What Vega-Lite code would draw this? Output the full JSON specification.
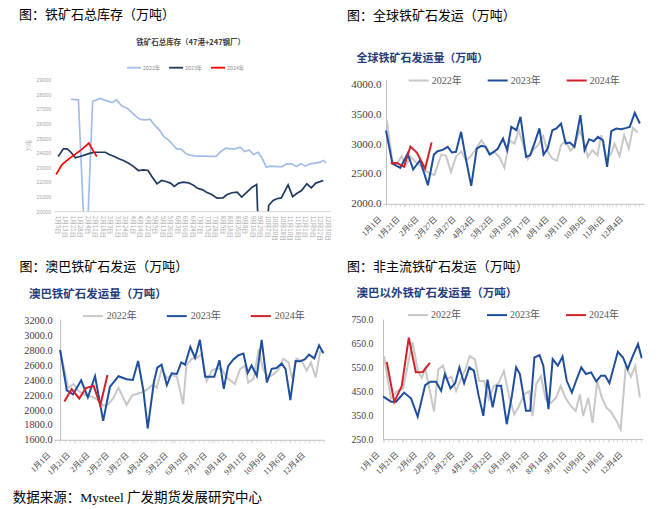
{
  "$schema": "https://vega.github.io/schema/vega-lite/v6.json",
  "background": "white",
  "padding": {"left": 12.7, "top": 8.5, "right": 5, "bottom": 2},
  "title": {"text": "数据来源：Mysteel 广发期货发展研究中心", "orient": "bottom", "anchor": "start", "frame": "group", "dx": -40.9, "offset": 14.5, "fontSize": 13.5, "font": "'Liberation Serif','Noto Sans CJK SC'", "fontWeight": "normal", "color": "#000000"},
  "columns": 2,
  "bounds": "flush",
  "spacing": {"row": 107.6, "column": 51.3},
  "resolve": {"scale": {"x": "independent", "y": "independent", "color": "independent"}, "axis": {"x": "independent", "y": "independent"}, "legend": {"color": "independent"}},
  "datasets": {
    "tl": [
      {"x": 1.8, "v": 27650, "s": "2022年"}, {"x": 2.8, "v": 27610, "s": "2022年"}, {"x": 3.8, "v": 16000, "s": "2022年"}, {"x": 4.7, "v": 27500, "s": "2022年"}, {"x": 5.7, "v": 27700, "s": "2022年"}, {"x": 6.5, "v": 27560, "s": "2022年"}, {"x": 7.3, "v": 27430, "s": "2022年"}, {"x": 7.9, "v": 27610, "s": "2022年"}, {"x": 8.6, "v": 27180, "s": "2022年"}, {"x": 9.3, "v": 27040, "s": "2022年"}, {"x": 9.9, "v": 26770, "s": "2022年"}, {"x": 10.6, "v": 26430, "s": "2022年"}, {"x": 11.1, "v": 26270, "s": "2022年"}, {"x": 11.7, "v": 26240, "s": "2022年"}, {"x": 12.4, "v": 26270, "s": "2022年"}, {"x": 13.0, "v": 25860, "s": "2022年"}, {"x": 13.6, "v": 25560, "s": "2022年"}, {"x": 14.2, "v": 25100, "s": "2022年"}, {"x": 14.8, "v": 24880, "s": "2022年"}, {"x": 15.4, "v": 24560, "s": "2022年"}, {"x": 15.9, "v": 24260, "s": "2022年"}, {"x": 16.5, "v": 24240, "s": "2022年"}, {"x": 17.2, "v": 23920, "s": "2022年"}, {"x": 17.7, "v": 23830, "s": "2022年"}, {"x": 18.6, "v": 23760, "s": "2022年"}, {"x": 19.5, "v": 23760, "s": "2022年"}, {"x": 20.4, "v": 23740, "s": "2022年"}, {"x": 21.2, "v": 23740, "s": "2022年"}, {"x": 21.7, "v": 24030, "s": "2022年"}, {"x": 22.5, "v": 24330, "s": "2022年"}, {"x": 23.1, "v": 24260, "s": "2022年"}, {"x": 23.7, "v": 24260, "s": "2022年"}, {"x": 24.4, "v": 24380, "s": "2022年"}, {"x": 25.0, "v": 24080, "s": "2022年"}, {"x": 25.6, "v": 24190, "s": "2022年"}, {"x": 26.2, "v": 23880, "s": "2022年"}, {"x": 26.8, "v": 24030, "s": "2022年"}, {"x": 27.3, "v": 23650, "s": "2022年"}, {"x": 27.9, "v": 23010, "s": "2022年"}, {"x": 28.4, "v": 23080, "s": "2022年"}, {"x": 29.3, "v": 23050, "s": "2022年"}, {"x": 30.0, "v": 23050, "s": "2022年"}, {"x": 30.6, "v": 23240, "s": "2022年"}, {"x": 31.3, "v": 23240, "s": "2022年"}, {"x": 31.9, "v": 23050, "s": "2022年"}, {"x": 32.5, "v": 23240, "s": "2022年"}, {"x": 33.1, "v": 23080, "s": "2022年"}, {"x": 33.7, "v": 23240, "s": "2022年"}, {"x": 34.4, "v": 23280, "s": "2022年"}, {"x": 35.1, "v": 23350, "s": "2022年"}, {"x": 35.5, "v": 23470, "s": "2022年"}, {"x": 35.9, "v": 23300, "s": "2022年"},
      {"x": 0.1, "v": 23740, "s": "2023年"}, {"x": 0.8, "v": 24260, "s": "2023年"}, {"x": 1.3, "v": 24260, "s": "2023年"}, {"x": 1.8, "v": 24030, "s": "2023年"}, {"x": 2.4, "v": 23650, "s": "2023年"}, {"x": 3.0, "v": 23740, "s": "2023年"}, {"x": 3.7, "v": 23850, "s": "2023年"}, {"x": 4.4, "v": 23970, "s": "2023年"}, {"x": 5.0, "v": 24030, "s": "2023年"}, {"x": 5.7, "v": 24030, "s": "2023年"}, {"x": 6.4, "v": 24030, "s": "2023年"}, {"x": 6.9, "v": 23880, "s": "2023年"}, {"x": 7.6, "v": 23740, "s": "2023年"}, {"x": 8.2, "v": 23580, "s": "2023年"}, {"x": 8.8, "v": 23470, "s": "2023年"}, {"x": 9.5, "v": 23280, "s": "2023年"}, {"x": 10.1, "v": 23080, "s": "2023年"}, {"x": 10.8, "v": 22780, "s": "2023年"}, {"x": 11.5, "v": 22830, "s": "2023年"}, {"x": 12.1, "v": 22780, "s": "2023年"}, {"x": 12.6, "v": 22370, "s": "2023年"}, {"x": 13.3, "v": 21870, "s": "2023年"}, {"x": 13.9, "v": 22100, "s": "2023年"}, {"x": 14.5, "v": 22030, "s": "2023年"}, {"x": 15.1, "v": 21920, "s": "2023年"}, {"x": 15.6, "v": 21690, "s": "2023年"}, {"x": 16.2, "v": 21920, "s": "2023年"}, {"x": 16.8, "v": 21980, "s": "2023年"}, {"x": 17.5, "v": 21940, "s": "2023年"}, {"x": 18.1, "v": 21800, "s": "2023年"}, {"x": 18.7, "v": 21570, "s": "2023年"}, {"x": 19.4, "v": 21460, "s": "2023年"}, {"x": 19.9, "v": 21300, "s": "2023年"}, {"x": 20.6, "v": 21140, "s": "2023年"}, {"x": 21.3, "v": 20890, "s": "2023年"}, {"x": 22.1, "v": 20910, "s": "2023年"}, {"x": 22.6, "v": 21120, "s": "2023年"}, {"x": 23.3, "v": 21260, "s": "2023年"}, {"x": 24.0, "v": 21300, "s": "2023年"}, {"x": 24.6, "v": 20960, "s": "2023年"}, {"x": 25.3, "v": 21300, "s": "2023年"}, {"x": 26.0, "v": 21640, "s": "2023年"}, {"x": 26.6, "v": 21820, "s": "2023年"}, {"x": 27.3, "v": 12000, "s": "2023年"}, {"x": 28.2, "v": 20390, "s": "2023年"}, {"x": 28.8, "v": 20730, "s": "2023年"}, {"x": 29.3, "v": 20850, "s": "2023年"}, {"x": 29.9, "v": 20910, "s": "2023年"}, {"x": 30.8, "v": 21800, "s": "2023年"}, {"x": 31.4, "v": 21000, "s": "2023年"}, {"x": 32.0, "v": 21230, "s": "2023年"}, {"x": 32.6, "v": 21410, "s": "2023年"}, {"x": 33.3, "v": 21870, "s": "2023年"}, {"x": 33.9, "v": 21600, "s": "2023年"}, {"x": 34.5, "v": 21920, "s": "2023年"}, {"x": 35.5, "v": 22100, "s": "2023年"},
      {"x": -0.17, "v": 22510, "s": "2024年"}, {"x": 0.58, "v": 23170, "s": "2024年"}, {"x": 1.47, "v": 23560, "s": "2024年"}, {"x": 2.36, "v": 23880, "s": "2024年"}, {"x": 3.25, "v": 24220, "s": "2024年"}, {"x": 4.2, "v": 24650, "s": "2024年"}, {"x": 4.7, "v": 24190, "s": "2024年"}, {"x": 5.26, "v": 23740, "s": "2024年"}
    ],
    "tr": [
      {"x": 0.2, "v": 3400, "s": "2022年"}, {"x": 1.4, "v": 2700, "s": "2022年"}, {"x": 2.4, "v": 2680, "s": "2022年"}, {"x": 3.4, "v": 2800, "s": "2022年"}, {"x": 4.3, "v": 2640, "s": "2022年"}, {"x": 5.3, "v": 2790, "s": "2022年"}, {"x": 6.4, "v": 2700, "s": "2022年"}, {"x": 7.5, "v": 2640, "s": "2022年"}, {"x": 8.3, "v": 2560, "s": "2022年"}, {"x": 9.4, "v": 2520, "s": "2022年"}, {"x": 10.5, "v": 2480, "s": "2022年"}, {"x": 12.0, "v": 2826, "s": "2022年"}, {"x": 13.0, "v": 2810, "s": "2022年"}, {"x": 14.1, "v": 2535, "s": "2022年"}, {"x": 15.2, "v": 2790, "s": "2022年"}, {"x": 16.3, "v": 2880, "s": "2022年"}, {"x": 17.4, "v": 2731, "s": "2022年"}, {"x": 18.3, "v": 2787, "s": "2022年"}, {"x": 19.6, "v": 2927, "s": "2022年"}, {"x": 20.7, "v": 3066, "s": "2022年"}, {"x": 21.7, "v": 2955, "s": "2022年"}, {"x": 22.5, "v": 2843, "s": "2022年"}, {"x": 23.6, "v": 2860, "s": "2022年"}, {"x": 24.6, "v": 2787, "s": "2022年"}, {"x": 25.7, "v": 2603, "s": "2022年"}, {"x": 26.8, "v": 3066, "s": "2022年"}, {"x": 27.9, "v": 3010, "s": "2022年"}, {"x": 28.8, "v": 3234, "s": "2022年"}, {"x": 29.7, "v": 3010, "s": "2022年"}, {"x": 30.8, "v": 2748, "s": "2022年"}, {"x": 31.9, "v": 2899, "s": "2022年"}, {"x": 33.0, "v": 2983, "s": "2022年"}, {"x": 34.1, "v": 3139, "s": "2022年"}, {"x": 35.1, "v": 2871, "s": "2022年"}, {"x": 36.1, "v": 2759, "s": "2022年"}, {"x": 37.1, "v": 2720, "s": "2022年"}, {"x": 38.0, "v": 2983, "s": "2022年"}, {"x": 39.0, "v": 3066, "s": "2022年"}, {"x": 40.0, "v": 2888, "s": "2022年"}, {"x": 40.9, "v": 2955, "s": "2022年"}, {"x": 42.0, "v": 3234, "s": "2022年"}, {"x": 43.1, "v": 3010, "s": "2022年"}, {"x": 43.8, "v": 2787, "s": "2022年"}, {"x": 44.8, "v": 2899, "s": "2022年"}, {"x": 45.9, "v": 2815, "s": "2022年"}, {"x": 46.7, "v": 3150, "s": "2022年"}, {"x": 47.8, "v": 2759, "s": "2022年"}, {"x": 48.9, "v": 2843, "s": "2022年"}, {"x": 49.6, "v": 3010, "s": "2022年"}, {"x": 50.7, "v": 2804, "s": "2022年"}, {"x": 51.7, "v": 3150, "s": "2022年"}, {"x": 52.7, "v": 2927, "s": "2022年"}, {"x": 53.6, "v": 3273, "s": "2022年"}, {"x": 54.6, "v": 3195, "s": "2022年"},
      {"x": 0, "v": 3230, "s": "2023年"}, {"x": 1.4, "v": 2675, "s": "2023年"}, {"x": 3.1, "v": 2603, "s": "2023年"}, {"x": 4.7, "v": 2843, "s": "2023年"}, {"x": 5.9, "v": 2575, "s": "2023年"}, {"x": 7.4, "v": 2731, "s": "2023年"}, {"x": 9.1, "v": 2312, "s": "2023年"}, {"x": 10.4, "v": 2826, "s": "2023年"}, {"x": 11.2, "v": 2882, "s": "2023年"}, {"x": 12.3, "v": 2904, "s": "2023年"}, {"x": 13.4, "v": 2955, "s": "2023年"}, {"x": 14.3, "v": 2860, "s": "2023年"}, {"x": 15.2, "v": 2871, "s": "2023年"}, {"x": 16.3, "v": 3206, "s": "2023年"}, {"x": 17.4, "v": 2731, "s": "2023年"}, {"x": 18.5, "v": 2300, "s": "2023年"}, {"x": 19.7, "v": 2927, "s": "2023年"}, {"x": 20.7, "v": 2971, "s": "2023年"}, {"x": 21.6, "v": 2955, "s": "2023年"}, {"x": 22.5, "v": 2826, "s": "2023年"}, {"x": 23.6, "v": 2882, "s": "2023年"}, {"x": 24.3, "v": 2927, "s": "2023年"}, {"x": 25.4, "v": 3094, "s": "2023年"}, {"x": 26.3, "v": 2899, "s": "2023年"}, {"x": 27.2, "v": 3290, "s": "2023年"}, {"x": 28.3, "v": 3234, "s": "2023年"}, {"x": 29.2, "v": 3458, "s": "2023年"}, {"x": 30.4, "v": 2787, "s": "2023年"}, {"x": 31.3, "v": 2815, "s": "2023年"}, {"x": 32.2, "v": 3010, "s": "2023年"}, {"x": 33.3, "v": 3262, "s": "2023年"}, {"x": 34.2, "v": 2826, "s": "2023年"}, {"x": 35.1, "v": 2927, "s": "2023年"}, {"x": 36.1, "v": 3234, "s": "2023年"}, {"x": 37.0, "v": 3262, "s": "2023年"}, {"x": 38.0, "v": 3346, "s": "2023年"}, {"x": 39.0, "v": 3010, "s": "2023年"}, {"x": 39.9, "v": 3027, "s": "2023年"}, {"x": 40.9, "v": 2955, "s": "2023年"}, {"x": 42.2, "v": 3486, "s": "2023年"}, {"x": 43.1, "v": 2899, "s": "2023年"}, {"x": 44.1, "v": 3083, "s": "2023年"}, {"x": 45.1, "v": 3049, "s": "2023年"}, {"x": 46.0, "v": 3122, "s": "2023年"}, {"x": 47.1, "v": 3066, "s": "2023年"}, {"x": 48.0, "v": 2619, "s": "2023年"}, {"x": 48.9, "v": 3217, "s": "2023年"}, {"x": 50.0, "v": 3262, "s": "2023年"}, {"x": 51.1, "v": 3250, "s": "2023年"}, {"x": 52.2, "v": 3273, "s": "2023年"}, {"x": 52.9, "v": 3290, "s": "2023年"}, {"x": 54.0, "v": 3525, "s": "2023年"}, {"x": 55.1, "v": 3346, "s": "2023年"},
      {"x": 1.0, "v": 2680, "s": "2024年"}, {"x": 2.4, "v": 2685, "s": "2024年"}, {"x": 3.9, "v": 2620, "s": "2024年"}, {"x": 5.3, "v": 2960, "s": "2024年"}, {"x": 6.7, "v": 2860, "s": "2024年"}, {"x": 8.5, "v": 2590, "s": "2024年"}, {"x": 9.9, "v": 3030, "s": "2024年"}
    ],
    "bl": [
      {"x": 0, "v": 2800, "s": "2022年"}, {"x": 1.7, "v": 2300, "s": "2022年"}, {"x": 2.8, "v": 2350, "s": "2022年"}, {"x": 3.8, "v": 2260, "s": "2022年"}, {"x": 4.9, "v": 2210, "s": "2022年"}, {"x": 5.9, "v": 2190, "s": "2022年"}, {"x": 7.0, "v": 2170, "s": "2022年"}, {"x": 8.0, "v": 2130, "s": "2022年"}, {"x": 9.0, "v": 2060, "s": "2022年"}, {"x": 10.1, "v": 2080, "s": "2022年"}, {"x": 11.1, "v": 2160, "s": "2022年"}, {"x": 12.2, "v": 2300, "s": "2022年"}, {"x": 13.9, "v": 2070, "s": "2022年"}, {"x": 15.1, "v": 2200, "s": "2022年"}, {"x": 17.2, "v": 2240, "s": "2022年"}, {"x": 18.3, "v": 2280, "s": "2022年"}, {"x": 19.3, "v": 2340, "s": "2022年"}, {"x": 20.2, "v": 2300, "s": "2022年"}, {"x": 21.2, "v": 2550, "s": "2022年"}, {"x": 22.3, "v": 2430, "s": "2022年"}, {"x": 23.3, "v": 2470, "s": "2022年"}, {"x": 24.4, "v": 2450, "s": "2022年"}, {"x": 25.7, "v": 2080, "s": "2022年"}, {"x": 26.4, "v": 2600, "s": "2022年"}, {"x": 27.5, "v": 2690, "s": "2022年"}, {"x": 28.5, "v": 2700, "s": "2022年"}, {"x": 29.6, "v": 2750, "s": "2022年"}, {"x": 30.6, "v": 2390, "s": "2022年"}, {"x": 31.7, "v": 2530, "s": "2022年"}, {"x": 32.7, "v": 2560, "s": "2022年"}, {"x": 33.8, "v": 2550, "s": "2022年"}, {"x": 34.8, "v": 2440, "s": "2022年"}, {"x": 36.5, "v": 2350, "s": "2022年"}, {"x": 37.6, "v": 2550, "s": "2022年"}, {"x": 38.6, "v": 2600, "s": "2022年"}, {"x": 39.3, "v": 2370, "s": "2022年"}, {"x": 40.4, "v": 2420, "s": "2022年"}, {"x": 41.5, "v": 2820, "s": "2022年"}, {"x": 42.4, "v": 2550, "s": "2022年"}, {"x": 43.5, "v": 2440, "s": "2022年"}, {"x": 44.5, "v": 2480, "s": "2022年"}, {"x": 45.6, "v": 2540, "s": "2022年"}, {"x": 46.6, "v": 2690, "s": "2022年"}, {"x": 47.7, "v": 2640, "s": "2022年"}, {"x": 48.5, "v": 2420, "s": "2022年"}, {"x": 49.4, "v": 2690, "s": "2022年"}, {"x": 50.5, "v": 2660, "s": "2022年"}, {"x": 51.5, "v": 2530, "s": "2022年"}, {"x": 52.4, "v": 2640, "s": "2022年"}, {"x": 53.4, "v": 2440, "s": "2022年"}, {"x": 54.3, "v": 2780, "s": "2022年"}, {"x": 55.0, "v": 2800, "s": "2022年"},
      {"x": 0, "v": 2810, "s": "2023年"}, {"x": 1.4, "v": 2265, "s": "2023年"}, {"x": 2.7, "v": 2210, "s": "2023年"}, {"x": 4.4, "v": 2400, "s": "2023年"}, {"x": 5.8, "v": 2170, "s": "2023年"}, {"x": 7.3, "v": 2455, "s": "2023年"}, {"x": 9.0, "v": 1855, "s": "2023年"}, {"x": 10.4, "v": 2310, "s": "2023年"}, {"x": 12.2, "v": 2455, "s": "2023年"}, {"x": 13.9, "v": 2415, "s": "2023年"}, {"x": 15.2, "v": 2405, "s": "2023年"}, {"x": 16.3, "v": 2660, "s": "2023年"}, {"x": 17.4, "v": 2260, "s": "2023年"}, {"x": 18.3, "v": 1752, "s": "2023年"}, {"x": 19.6, "v": 2380, "s": "2023年"}, {"x": 20.3, "v": 2570, "s": "2023年"}, {"x": 21.2, "v": 2610, "s": "2023年"}, {"x": 22.3, "v": 2335, "s": "2023年"}, {"x": 23.3, "v": 2495, "s": "2023年"}, {"x": 24.4, "v": 2485, "s": "2023年"}, {"x": 25.3, "v": 2640, "s": "2023年"}, {"x": 26.1, "v": 2610, "s": "2023年"}, {"x": 27.2, "v": 2850, "s": "2023年"}, {"x": 28.2, "v": 2700, "s": "2023年"}, {"x": 29.2, "v": 2945, "s": "2023年"}, {"x": 30.3, "v": 2447, "s": "2023年"}, {"x": 31.3, "v": 2447, "s": "2023年"}, {"x": 32.2, "v": 2447, "s": "2023年"}, {"x": 33.3, "v": 2670, "s": "2023年"}, {"x": 34.2, "v": 2285, "s": "2023年"}, {"x": 35.1, "v": 2590, "s": "2023年"}, {"x": 36.2, "v": 2680, "s": "2023年"}, {"x": 37.2, "v": 2735, "s": "2023年"}, {"x": 38.3, "v": 2760, "s": "2023年"}, {"x": 39.2, "v": 2500, "s": "2023年"}, {"x": 40.0, "v": 2600, "s": "2023年"}, {"x": 41.1, "v": 2460, "s": "2023年"}, {"x": 42.1, "v": 2945, "s": "2023年"}, {"x": 43.2, "v": 2370, "s": "2023年"}, {"x": 44.2, "v": 2555, "s": "2023年"}, {"x": 45.2, "v": 2565, "s": "2023年"}, {"x": 46.3, "v": 2625, "s": "2023年"}, {"x": 47.1, "v": 2550, "s": "2023年"}, {"x": 48.1, "v": 2135, "s": "2023年"}, {"x": 49.2, "v": 2660, "s": "2023年"}, {"x": 50.1, "v": 2655, "s": "2023年"}, {"x": 51.1, "v": 2680, "s": "2023年"}, {"x": 52.0, "v": 2745, "s": "2023年"}, {"x": 53.1, "v": 2695, "s": "2023年"}, {"x": 54.1, "v": 2870, "s": "2023年"}, {"x": 55.0, "v": 2765, "s": "2023年"},
      {"x": 0.9, "v": 2115, "s": "2024年"}, {"x": 2.4, "v": 2282, "s": "2024年"}, {"x": 4.0, "v": 2156, "s": "2024年"}, {"x": 5.4, "v": 2295, "s": "2024年"}, {"x": 7.0, "v": 2326, "s": "2024年"}, {"x": 8.4, "v": 2067, "s": "2024年"}, {"x": 9.9, "v": 2472, "s": "2024年"}
    ],
    "br": [
      {"x": 0.2, "v": 596, "s": "2022年"}, {"x": 1.7, "v": 420, "s": "2022年"}, {"x": 3.0, "v": 450, "s": "2022年"}, {"x": 4.3, "v": 460, "s": "2022年"}, {"x": 5.3, "v": 560, "s": "2022年"}, {"x": 6.3, "v": 655, "s": "2022年"}, {"x": 7.5, "v": 530, "s": "2022年"}, {"x": 8.3, "v": 505, "s": "2022年"}, {"x": 9.0, "v": 545, "s": "2022年"}, {"x": 10.9, "v": 365, "s": "2022年"}, {"x": 11.8, "v": 540, "s": "2022年"}, {"x": 12.8, "v": 557, "s": "2022年"}, {"x": 13.7, "v": 500, "s": "2022年"}, {"x": 14.6, "v": 510, "s": "2022年"}, {"x": 15.6, "v": 450, "s": "2022年"}, {"x": 16.6, "v": 500, "s": "2022年"}, {"x": 17.5, "v": 535, "s": "2022年"}, {"x": 18.5, "v": 596, "s": "2022年"}, {"x": 19.6, "v": 582, "s": "2022年"}, {"x": 20.5, "v": 492, "s": "2022年"}, {"x": 21.6, "v": 492, "s": "2022年"}, {"x": 22.6, "v": 415, "s": "2022年"}, {"x": 23.6, "v": 470, "s": "2022年"}, {"x": 24.6, "v": 482, "s": "2022年"}, {"x": 25.8, "v": 533, "s": "2022年"}, {"x": 26.9, "v": 429, "s": "2022年"}, {"x": 28.0, "v": 353, "s": "2022年"}, {"x": 29.0, "v": 387, "s": "2022年"}, {"x": 30.1, "v": 436, "s": "2022年"}, {"x": 31.2, "v": 450, "s": "2022年"}, {"x": 31.9, "v": 346, "s": "2022年"}, {"x": 32.7, "v": 480, "s": "2022年"}, {"x": 33.7, "v": 512, "s": "2022年"}, {"x": 34.7, "v": 415, "s": "2022年"}, {"x": 35.8, "v": 401, "s": "2022年"}, {"x": 36.9, "v": 422, "s": "2022年"}, {"x": 37.9, "v": 471, "s": "2022年"}, {"x": 38.9, "v": 422, "s": "2022年"}, {"x": 40.1, "v": 387, "s": "2022年"}, {"x": 41.1, "v": 367, "s": "2022年"}, {"x": 42.0, "v": 436, "s": "2022年"}, {"x": 42.7, "v": 346, "s": "2022年"}, {"x": 43.8, "v": 422, "s": "2022年"}, {"x": 44.7, "v": 318, "s": "2022年"}, {"x": 45.7, "v": 492, "s": "2022年"}, {"x": 46.7, "v": 422, "s": "2022年"}, {"x": 47.7, "v": 380, "s": "2022年"}, {"x": 48.6, "v": 364, "s": "2022年"}, {"x": 49.7, "v": 330, "s": "2022年"}, {"x": 50.7, "v": 290, "s": "2022年"}, {"x": 51.8, "v": 554, "s": "2022年"}, {"x": 52.9, "v": 510, "s": "2022年"}, {"x": 53.8, "v": 554, "s": "2022年"}, {"x": 54.8, "v": 424, "s": "2022年"},
      {"x": 0, "v": 428, "s": "2023年"}, {"x": 1.7, "v": 406, "s": "2023年"}, {"x": 2.8, "v": 406, "s": "2023年"}, {"x": 4.5, "v": 444, "s": "2023年"}, {"x": 6.0, "v": 419, "s": "2023年"}, {"x": 7.4, "v": 344, "s": "2023年"}, {"x": 9.0, "v": 475, "s": "2023年"}, {"x": 10.1, "v": 489, "s": "2023年"}, {"x": 11.3, "v": 489, "s": "2023年"}, {"x": 12.4, "v": 451, "s": "2023年"}, {"x": 13.2, "v": 521, "s": "2023年"}, {"x": 14.4, "v": 461, "s": "2023年"}, {"x": 15.4, "v": 483, "s": "2023年"}, {"x": 16.3, "v": 549, "s": "2023年"}, {"x": 17.3, "v": 483, "s": "2023年"}, {"x": 18.4, "v": 549, "s": "2023年"}, {"x": 19.4, "v": 535, "s": "2023年"}, {"x": 20.4, "v": 431, "s": "2023年"}, {"x": 21.4, "v": 347, "s": "2023年"}, {"x": 22.3, "v": 498, "s": "2023年"}, {"x": 23.4, "v": 382, "s": "2023年"}, {"x": 24.3, "v": 472, "s": "2023年"}, {"x": 25.2, "v": 472, "s": "2023年"}, {"x": 26.4, "v": 312, "s": "2023年"}, {"x": 27.5, "v": 431, "s": "2023年"}, {"x": 28.4, "v": 549, "s": "2023年"}, {"x": 29.2, "v": 521, "s": "2023年"}, {"x": 30.5, "v": 368, "s": "2023年"}, {"x": 31.4, "v": 368, "s": "2023年"}, {"x": 32.3, "v": 590, "s": "2023年"}, {"x": 33.4, "v": 600, "s": "2023年"}, {"x": 34.2, "v": 556, "s": "2023年"}, {"x": 35.3, "v": 375, "s": "2023年"}, {"x": 36.2, "v": 583, "s": "2023年"}, {"x": 37.3, "v": 556, "s": "2023年"}, {"x": 38.3, "v": 594, "s": "2023年"}, {"x": 39.2, "v": 493, "s": "2023年"}, {"x": 40.3, "v": 444, "s": "2023年"}, {"x": 41.2, "v": 493, "s": "2023年"}, {"x": 42.3, "v": 549, "s": "2023年"}, {"x": 43.3, "v": 521, "s": "2023年"}, {"x": 44.4, "v": 528, "s": "2023年"}, {"x": 45.5, "v": 490, "s": "2023年"}, {"x": 46.5, "v": 514, "s": "2023年"}, {"x": 47.4, "v": 514, "s": "2023年"}, {"x": 48.3, "v": 483, "s": "2023年"}, {"x": 50.1, "v": 614, "s": "2023年"}, {"x": 51.2, "v": 590, "s": "2023年"}, {"x": 52.2, "v": 542, "s": "2023年"}, {"x": 53.3, "v": 597, "s": "2023年"}, {"x": 54.4, "v": 646, "s": "2023年"}, {"x": 55.2, "v": 587, "s": "2023年"},
      {"x": 0.8, "v": 572, "s": "2024年"}, {"x": 2.4, "v": 405, "s": "2024年"}, {"x": 4.0, "v": 471, "s": "2024年"}, {"x": 5.5, "v": 673, "s": "2024年"}, {"x": 7.0, "v": 529, "s": "2024年"}, {"x": 8.5, "v": 530, "s": "2024年"}, {"x": 10.0, "v": 568, "s": "2024年"}
    ]
  },
  "concat": [
    {
      "width": 277.1, "height": 131.7,
      "data": {"name": "tl"},
      "title": {"text": "图：铁矿石总库存（万吨）", "anchor": "start", "frame": "group", "dx": -34.6, "offset": 16.5, "fontSize": 13, "fontWeight": "normal", "font": "Noto Sans CJK SC", "color": "#000000"},
      "mark": {"type": "line", "strokeWidth": 1.7, "clip": true},
      "encoding": {
        "x": {"field": "x", "type": "quantitative", "scale": {"domain": [-0.5, 36.5], "nice": false, "zero": false},
          "axis": {"values": [0,1,2,3,4,5,6,7,8,9,10,11,12,13,14,15,16,17,18,19,20,21,22,23,24,25,26,27,28,29,30,31,32,33,34,35,36],
            "labelExpr": "['1月5日','1月13日','1月21日','1月28日','2月4日','2月11日','2月18日','3月3日','3月11日','3月24日','4月1日','4月14日','4月22日','5月5日','5月13日','5月26日','6月3日','6月16日','6月24日','7月7日','7月15日','7月28日','8月5日','8月18日','8月26日','9月8日','9月16日','9月29日','10月7日','10月20日','10月28日','11月10日','11月18日','12月1日','12月9日','12月22日','12月30日'][datum.value]",
            "labelAngle": 90, "labelAlign": "left", "labelBaseline": "middle", "labelFontSize": 6, "labelFont": "Noto Sans CJK SC", "labelColor": "#A6A6A6", "labelPadding": 4, "labelOverlap": false, "labelBound": false, "labelFlush": false, "ticks": false, "domainColor": "#D9D9D9", "grid": false,
            "title": "铁矿石总库存（47港+247钢厂）", "titleX": 136.4, "titleY": -168.7, "titleAlign": "center", "titleBaseline": "middle", "titleAnchor": null, "titleFontSize": 7.5, "titleFontWeight": "bold", "titleColor": "#404040", "titleFont": "Noto Sans CJK SC"}},
        "y": {"field": "v", "type": "quantitative", "scale": {"domain": [20000, 29000], "nice": false, "zero": false},
          "axis": {"values": [20000,21000,22000,23000,24000,25000,26000,27000,28000,29000], "format": "d", "labelFontSize": 5.3, "labelFont": "Liberation Sans", "labelColor": "#A6A6A6", "labelPadding": 3, "domain": false, "ticks": false, "grid": false,
            "title": "万吨", "titleX": -25.6, "titleY": 65.8, "titleAngle": 270, "titleAlign": "center", "titleBaseline": "middle", "titleFontSize": 5.5, "titleFontWeight": "normal", "titleColor": "#A6A6A6", "titleFont": "Noto Sans CJK SC"}},
        "color": {"field": "s", "type": "nominal", "scale": {"domain": ["2022年","2023年","2024年"], "range": ["#A3BDE9","#1F3A60","#FF0000"]},
          "legend": {"orient": "none", "legendX": 72.4, "legendY": -20, "direction": "horizontal", "title": null, "symbolType": "stroke", "symbolSize": 196, "symbolStrokeWidth": 1.8, "labelFontSize": 5.3, "labelFont": "Noto Sans CJK SC", "labelColor": "#8C8C8C", "labelOffset": 1, "columnPadding": 4, "padding": 0}}
      }
    },
    {
      "width": 261, "height": 124.3,
      "data": {"name": "tr"},
      "title": {"text": "图：全球铁矿石发运（万吨）", "anchor": "start", "frame": "group", "dx": -36, "offset": 30, "fontSize": 13, "fontWeight": "normal", "font": "Noto Sans CJK SC", "color": "#000000"},
      "mark": {"type": "line", "strokeWidth": 2, "clip": true},
      "encoding": {
        "x": {"field": "x", "type": "quantitative", "scale": {"domain": [-0.65, 56], "nice": false, "zero": false},
          "axis": {"values": [0,1,2,3,4,5,6,7,8,9,10,11,12,13,14,15,16,17,18,19,20,21,22,23,24,25,26,27,28,29,30,31,32,33,34,35,36,37,38,39,40,41,42,43,44,45,46,47,48,49,50,51,52,53,54,55,0.01,4.04,8.07,12.11,16.15,20.19,24.22,28.26,32.3,36.33,40.37,44.41,48.44,52.48],
            "labelExpr": "indexof([0.01,4.04,8.07,12.11,16.15,20.19,24.22,28.26,32.3,36.33,40.37,44.41,48.44,52.48], datum.value) >= 0 ? ['1月1日','1月21日','2月6日','2月27日','3月27日','4月24日','5月22日','6月19日','7月17日','8月14日','9月11日','10月9日','11月6日','12月4日'][indexof([0.01,4.04,8.07,12.11,16.15,20.19,24.22,28.26,32.3,36.33,40.37,44.41,48.44,52.48], datum.value)] : ''",
            "labelAngle": -45, "labelAlign": "right", "labelBaseline": "middle", "labelFontSize": 8, "labelFont": "'Liberation Serif','Noto Sans CJK SC'", "labelColor": "#404040", "labelPadding": 11, "labelOffset": -6, "labelOverlap": false, "labelBound": false, "labelFlush": false, "ticks": true, "tickSize": 3, "tickColor": "#D9D9D9", "tickWidth": 0.8, "domainColor": "#BFBFBF", "grid": false, "title": null}},
        "y": {"field": "v", "type": "quantitative", "scale": {"domain": [2000, 4084], "nice": false, "zero": false},
          "axis": {"values": [2000,2500,3000,3500,4000], "format": ".1f", "labelFontSize": 11, "labelFont": "Liberation Serif", "labelColor": "#404040", "labelPadding": 5, "offset": -3, "ticks": false, "domainColor": "#BFBFBF", "grid": false,
            "title": "全球铁矿石发运量（万吨）", "titleAngle": 0, "titleAlign": "left", "titleBaseline": "middle", "titleX": -30, "titleY": -20.7, "titleFontSize": 11, "titleFontWeight": "bold", "titleColor": "#1F3D7A", "titleFont": "Noto Sans CJK SC"}},
        "color": {"field": "s", "type": "nominal", "scale": {"domain": ["2022年","2023年","2024年"], "range": ["#C8C8C8","#1F4E9C","#D0222A"]},
          "legend": {"orient": "none", "legendX": 24.7, "legendY": -10, "direction": "horizontal", "title": null, "symbolType": "stroke", "symbolSize": 400, "symbolStrokeWidth": 2, "labelFontSize": 10, "labelFont": "'Liberation Serif','Noto Sans CJK SC'", "labelColor": "#595959", "labelOffset": 2, "columnPadding": 22, "padding": 0}}
      }
    },
    {
      "width": 270.4, "height": 120.7,
      "data": {"name": "bl"},
      "title": {"text": "图：澳巴铁矿石发运（万吨）", "anchor": "start", "frame": "group", "dx": -34.3, "offset": 14, "fontSize": 13, "fontWeight": "normal", "font": "Noto Sans CJK SC", "color": "#000000"},
      "mark": {"type": "line", "strokeWidth": 2, "clip": true},
      "encoding": {
        "x": {"field": "x", "type": "quantitative", "scale": {"domain": [-1.34, 55.15], "nice": false, "zero": false},
          "axis": {"values": [0,1,2,3,4,5,6,7,8,9,10,11,12,13,14,15,16,17,18,19,20,21,22,23,24,25,26,27,28,29,30,31,32,33,34,35,36,37,38,39,40,41,42,43,44,45,46,47,48,49,50,51,52,53,54,55,-1.07,3.03,7.12,11.22,15.31,19.41,23.5,27.59,31.69,35.78,39.88,43.97,48.06,52.16],
            "labelExpr": "indexof([-1.07,3.03,7.12,11.22,15.31,19.41,23.5,27.59,31.69,35.78,39.88,43.97,48.06,52.16], datum.value) >= 0 ? ['1月1日','1月21日','2月6日','2月27日','3月27日','4月24日','5月22日','6月19日','7月17日','8月14日','9月11日','10月9日','11月6日','12月4日'][indexof([-1.07,3.03,7.12,11.22,15.31,19.41,23.5,27.59,31.69,35.78,39.88,43.97,48.06,52.16], datum.value)] : ''",
            "labelAngle": -45, "labelAlign": "right", "labelBaseline": "middle", "labelFontSize": 8, "labelFont": "'Liberation Serif','Noto Sans CJK SC'", "labelColor": "#404040", "labelPadding": 11, "labelOffset": -6, "labelOverlap": false, "labelBound": false, "labelFlush": false, "ticks": true, "tickSize": 3, "tickColor": "#D9D9D9", "tickWidth": 0.8, "domainColor": "#BFBFBF", "grid": false, "title": null}},
        "y": {"field": "v", "type": "quantitative", "scale": {"domain": [1600, 3223], "nice": false, "zero": false},
          "axis": {"values": [1600,1800,2000,2200,2400,2600,2800,3000,3200], "format": ".1f", "labelFontSize": 10.3, "labelFont": "Liberation Serif", "labelColor": "#404040", "labelPadding": 8, "offset": -6.4, "ticks": false, "domainColor": "#BFBFBF", "grid": false,
            "title": "澳巴铁矿石发运量（万吨）", "titleAngle": 0, "titleAlign": "left", "titleBaseline": "middle", "titleX": -31.7, "titleY": -25, "titleFontSize": 11.5, "titleFontWeight": "bold", "titleColor": "#1F3D7A", "titleFont": "Noto Sans CJK SC"}},
        "color": {"field": "s", "type": "nominal", "scale": {"domain": ["2022年","2023年","2024年"], "range": ["#C8C8C8","#1F4E9C","#D0222A"]},
          "legend": {"orient": "none", "legendX": 28.1, "legendY": -14, "direction": "horizontal", "title": null, "symbolType": "stroke", "symbolSize": 400, "symbolStrokeWidth": 2, "labelFontSize": 10, "labelFont": "'Liberation Serif','Noto Sans CJK SC'", "labelColor": "#595959", "labelOffset": 3, "columnPadding": 26, "padding": 0}}
      }
    },
    {
      "width": 259.7, "height": 120,
      "data": {"name": "br"},
      "title": {"text": "图：非主流铁矿石发运（万吨）", "anchor": "start", "frame": "group", "dx": -36, "offset": 13.5, "fontSize": 13, "fontWeight": "normal", "font": "Noto Sans CJK SC", "color": "#000000"},
      "mark": {"type": "line", "strokeWidth": 2, "clip": true},
      "encoding": {
        "x": {"field": "x", "type": "quantitative", "scale": {"domain": [0, 55.4], "nice": false, "zero": false},
          "axis": {"values": [0,1,2,3,4,5,6,7,8,9,10,11,12,13,14,15,16,17,18,19,20,21,22,23,24,25,26,27,28,29,30,31,32,33,34,35,36,37,38,39,40,41,42,43,44,45,46,47,48,49,50,51,52,53,54,55,0.26,4.25,8.24,12.23,16.22,20.21,24.2,28.19,32.18,36.17,40.16,44.15,48.14,52.13],
            "labelExpr": "indexof([0.26,4.25,8.24,12.23,16.22,20.21,24.2,28.19,32.18,36.17,40.16,44.15,48.14,52.13], datum.value) >= 0 ? ['1月1日','1月21日','2月6日','2月27日','3月27日','4月24日','5月22日','6月19日','7月17日','8月14日','9月11日','10月9日','11月6日','12月4日'][indexof([0.26,4.25,8.24,12.23,16.22,20.21,24.2,28.19,32.18,36.17,40.16,44.15,48.14,52.13], datum.value)] : ''",
            "labelAngle": -45, "labelAlign": "right", "labelBaseline": "middle", "labelFontSize": 8, "labelFont": "'Liberation Serif','Noto Sans CJK SC'", "labelColor": "#404040", "labelPadding": 11, "labelOffset": -6, "labelOverlap": false, "labelBound": false, "labelFlush": false, "ticks": true, "tickSize": 3, "tickColor": "#D9D9D9", "tickWidth": 0.8, "domainColor": "#BFBFBF", "grid": false, "title": null}},
        "y": {"field": "v", "type": "quantitative", "scale": {"domain": [250, 750], "nice": false, "zero": false},
          "axis": {"values": [250,350,450,550,650,750], "format": ".1f", "labelFontSize": 9.8, "labelFont": "Liberation Serif", "labelColor": "#404040", "labelPadding": 10, "ticks": false, "domainColor": "#BFBFBF", "grid": false,
            "title": "澳巴以外铁矿石发运量（万吨）", "titleAngle": 0, "titleAlign": "left", "titleBaseline": "middle", "titleX": -27, "titleY": -25.6, "titleFontSize": 11.5, "titleFontWeight": "bold", "titleColor": "#1F3D7A", "titleFont": "Noto Sans CJK SC"}},
        "color": {"field": "s", "type": "nominal", "scale": {"domain": ["2022年","2023年","2024年"], "range": ["#C8C8C8","#1F4E9C","#D0222A"]},
          "legend": {"orient": "none", "legendX": 24, "legendY": -15, "direction": "horizontal", "title": null, "symbolType": "stroke", "symbolSize": 400, "symbolStrokeWidth": 2, "labelFontSize": 10, "labelFont": "'Liberation Serif','Noto Sans CJK SC'", "labelColor": "#595959", "labelOffset": 2, "columnPadding": 22, "padding": 0}}
      }
    }
  ],
  "config": {"view": {"stroke": null}, "axis": {"grid": false}}
}
